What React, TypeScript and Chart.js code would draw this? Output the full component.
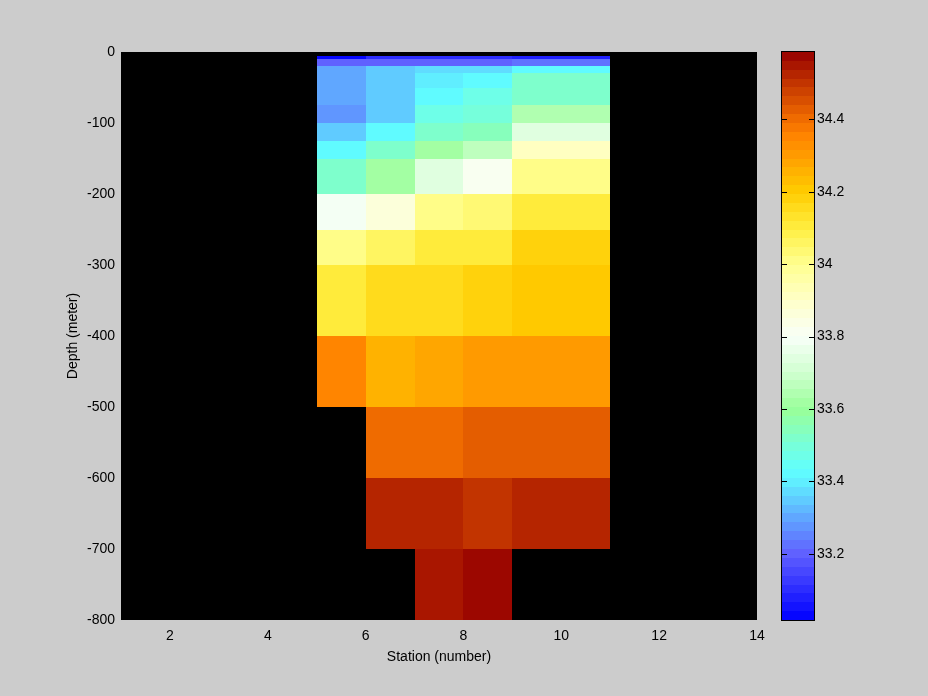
import React, { useEffect, useRef } from 'react';
import { Chart, registerables } from 'chart.js';

Chart.register(...registerables);

// ---- Data ----
const stationEdges = [5, 6, 7, 8, 9, 11];
const depthEdges = [-5, -10, -20, -30, -50, -75, -100, -125, -150, -200, -250, -300, -400, -500, -600, -700, -800];

// salinity per station column, one value per depth layer (null = no data)
const salinityCol5 = [33.03, 33.19, 33.29, 33.31, 33.31, 33.28, 33.34, 33.43, 33.53, 33.79, 34.02, 34.11, 34.345, null, null, null];
const salinityCol6 = [33.1, 33.19, 33.34, 33.34, 33.34, 33.34, 33.43, 33.51, 33.61, 33.86, 34.07, 34.15, 34.26, 34.4, 34.525, null];
const salinityCol7 = [33.1, 33.19, 33.37, 33.4, 33.43, 33.47, 33.53, 33.61, 33.73, 34.0, 34.1, 34.16, 34.29, 34.4, 34.525, 34.56];
const salinityCol8 = [33.1, 33.19, 33.37, 33.43, 33.47, 33.49, 33.55, 33.66, 33.82, 34.04, 34.12, 34.19, 34.315, 34.425, 34.51, 34.58];
const salinityCol9 = [33.07, 33.22, 33.43, 33.53, 33.53, 33.63, 33.75, 33.9, 34.0, 34.1, 34.17, 34.21, 34.315, 34.425, 34.525, null];
const salinityColumns = [salinityCol5, salinityCol6, salinityCol7, salinityCol8, salinityCol9];

const xTicks = [2, 4, 6, 8, 10, 12, 14];
const yTicks = [-800, -700, -600, -500, -400, -300, -200, -100, 0];
const cbTicks = [33.2, 33.4, 33.6, 33.8, 34, 34.2, 34.4];

const cMin = 33.017;
const cMax = 34.586;
const nBands = 64;

// colormap anchors
const cmapValues = [33.017, 33.2, 33.3, 33.4, 33.43, 33.5, 33.6, 33.7, 33.8, 33.9, 34.0, 34.1, 34.2, 34.3, 34.36, 34.4, 34.5, 34.586];
const cmapColors = ['#0000ff', '#6060ff', '#60a8ff', '#60f0ff', '#60ffff', '#78ffd8', '#99ff99', '#d0ffd0', '#f8fff8', '#ffffc8', '#ffff90', '#ffee40', '#ffcc00', '#ff9c00', '#ff8200', '#f06c00', '#c23400', '#960000'];

const FONT = '"Liberation Sans", Arial, Helvetica, sans-serif';

function hexToRgb(h: string): number[] {
  const n = parseInt(h.slice(1), 16);
  return [(n >> 16) & 255, (n >> 8) & 255, n & 255];
}

function colorAt(v: number): string {
  if (v <= cmapValues[0]) return cmapColors[0];
  for (let i = 1; i < cmapValues.length; i++) {
    if (v <= cmapValues[i]) {
      const t = (v - cmapValues[i - 1]) / (cmapValues[i] - cmapValues[i - 1]);
      const a = hexToRgb(cmapColors[i - 1]);
      const b = hexToRgb(cmapColors[i]);
      const c = a.map((av, k) => Math.round(av + (b[k] - av) * t));
      return `rgb(${c[0]},${c[1]},${c[2]})`;
    }
  }
  return cmapColors[cmapColors.length - 1];
}

function bandIndex(v: number): number {
  let k = Math.floor(((v - cMin) / (cMax - cMin)) * nBands);
  if (k < 0) k = 0;
  if (k > nBands - 1) k = nBands - 1;
  return k;
}

function bandColor(v: number): string {
  const k = bandIndex(v);
  return colorAt(cMin + ((k + 0.5) * (cMax - cMin)) / nBands);
}

const heatmapPlugin = {
  id: 'heatmap',
  beforeDatasetsDraw(chart: any) {
    const { ctx, chartArea, scales } = chart;
    const { left, top, right, bottom } = chartArea;
    const x = scales.x;
    const y = scales.y;
    ctx.save();
    ctx.fillStyle = '#000';
    ctx.fillRect(left, top, right - left, bottom - top);
    salinityColumns.forEach((col, i) => {
      const x0 = Math.round(x.getPixelForValue(stationEdges[i]));
      const x1 = Math.round(x.getPixelForValue(stationEdges[i + 1]));
      col.forEach((v, j) => {
        if (v == null) return;
        const y0 = Math.round(y.getPixelForValue(depthEdges[j]));
        const y1 = Math.round(y.getPixelForValue(depthEdges[j + 1]));
        ctx.fillStyle = bandColor(v);
        ctx.fillRect(x0, y0, x1 - x0, y1 - y0);
      });
    });
    ctx.restore();
  },
};

const colorbarPlugin = {
  id: 'colorbar',
  beforeDatasetsDraw(chart: any) {
    const { ctx, chartArea, scales } = chart;
    const { left, right } = chartArea;
    const y = scales.y;
    ctx.save();
    const w = (cMax - cMin) / nBands;
    const edges: number[] = [];
    for (let k = 0; k <= nBands; k++) edges.push(Math.round(y.getPixelForValue(cMin + k * w)));
    for (let k = 0; k < nBands; k++) {
      ctx.fillStyle = colorAt(cMin + (k + 0.5) * w);
      ctx.fillRect(left, edges[k + 1], right - left, edges[k] - edges[k + 1]);
    }
    ctx.strokeStyle = '#000';
    ctx.lineWidth = 1;
    const t = edges[nBands];
    const b = edges[0];
    ctx.strokeRect(left - 0.5, t - 0.5, right - left + 1, b - t + 1);
    ctx.beginPath();
    cbTicks.forEach((v) => {
      const p = Math.round(y.getPixelForValue(v)) + 0.5;
      ctx.moveTo(left, p);
      ctx.lineTo(left + 5, p);
      ctx.moveTo(right - 5, p);
      ctx.lineTo(right, p);
    });
    ctx.stroke();
    ctx.restore();
  },
};

export default function App() {
  const mainRef = useRef<HTMLCanvasElement | null>(null);
  const cbRef = useRef<HTMLCanvasElement | null>(null);

  useEffect(() => {
    document.body.style.margin = '0';
    const main = new Chart(mainRef.current as HTMLCanvasElement, {
      type: 'scatter',
      data: { datasets: [{ data: [] }] },
      plugins: [heatmapPlugin],
      options: {
        animation: false,
        responsive: false,
        layout: { padding: { left: 0, top: 52, right: 171, bottom: 0 } },
        plugins: { legend: { display: false }, tooltip: { enabled: false } },
        scales: {
          x: {
            type: 'linear',
            min: 1,
            max: 14,
            afterBuildTicks: (s: any) => {
              s.ticks = xTicks.map((v) => ({ value: v }));
            },
            afterFit: (s: any) => {
              s.height = 76;
            },
            grid: { display: false, drawTicks: false },
            border: { display: false },
            ticks: { color: '#000', font: { family: FONT, size: 14 }, padding: 8, maxRotation: 0, autoSkip: false },
            title: { display: true, text: 'Station (number)', color: '#000', font: { family: FONT, size: 14 }, padding: { top: 0, bottom: 30 } },
          },
          y: {
            type: 'linear',
            min: -800,
            max: 0,
            afterBuildTicks: (s: any) => {
              s.ticks = yTicks.map((v) => ({ value: v }));
            },
            afterFit: (s: any) => {
              s.width = 121;
            },
            grid: { display: false, drawTicks: false },
            border: { display: false },
            ticks: { color: '#000', font: { family: FONT, size: 14 }, padding: 6, autoSkip: false },
            title: { display: true, text: 'Depth (meter)', color: '#000', font: { family: FONT, size: 14 }, padding: { top: 65, bottom: 0 } },
          },
        },
      },
    } as any);

    const cb = new Chart(cbRef.current as HTMLCanvasElement, {
      type: 'scatter',
      data: { datasets: [{ data: [] }] },
      plugins: [colorbarPlugin],
      options: {
        animation: false,
        responsive: false,
        layout: { padding: { left: 22, top: 52, right: 0, bottom: 76 } },
        plugins: { legend: { display: false }, tooltip: { enabled: false } },
        scales: {
          x: { type: 'linear', display: false, min: 0, max: 1 },
          y: {
            type: 'linear',
            position: 'right',
            min: cMin,
            max: cMax,
            afterBuildTicks: (s: any) => {
              s.ticks = cbTicks.map((v) => ({ value: v }));
            },
            afterFit: (s: any) => {
              s.width = 114;
            },
            grid: { display: false, drawTicks: false },
            border: { display: false },
            ticks: { color: '#000', font: { family: FONT, size: 14 }, padding: 3, autoSkip: false, callback: (v: any) => String(v) },
          },
        },
      },
    } as any);

    return () => {
      main.destroy();
      cb.destroy();
    };
  }, []);

  return (
    <div style={{ position: 'fixed', left: 0, top: 0, width: 928, height: 696, background: '#cccccc', overflow: 'hidden' }}>
      <canvas ref={mainRef} width={928} height={696} style={{ position: 'absolute', left: 0, top: 0 }} />
      <canvas ref={cbRef} width={168} height={696} style={{ position: 'absolute', left: 760, top: 0 }} />
    </div>
  );
}
